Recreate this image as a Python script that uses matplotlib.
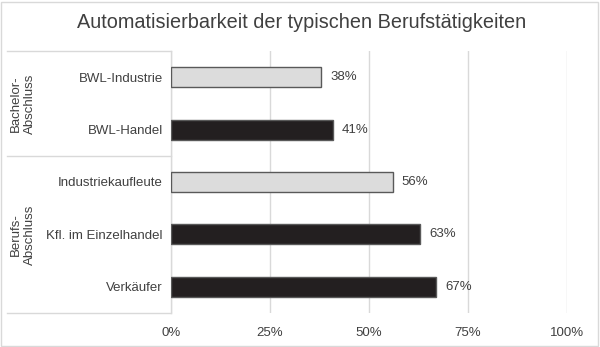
import matplotlib
matplotlib.use("Agg")
import matplotlib.pyplot as plt
from matplotlib.lines import Line2D
from matplotlib.patches import Rectangle

plt.rcParams['font.family'] = ['Liberation Sans', 'DejaVu Sans']

categories = ["BWL-Industrie", "BWL-Handel", "Industriekaufleute",
              "Kfl. im Einzelhandel", "Verkäufer"]
values = [38, 41, 56, 63, 67]
is_industry = [True, False, True, False, False]
groups = ["Bachelor-\nAbschluss", "Berufs-\nAbschluss"]
group_sizes = [2, 3]
xticks = [0, 25, 50, 75, 100]
title = "Automatisierbarkeit der typischen Berufstätigkeiten"

text_col = "#404040"
grid_col = "#d9d9d9"
light_fill = "#dcdcdc"
dark_fill = "#231f20"
edge_col = "#595959"

fig = plt.figure(figsize=(6.0, 3.47), dpi=100)
ax = fig.add_axes([171 / 600, 1 - 313 / 347, 396 / 600, 262 / 347])

ypos = list(range(len(categories)))
colors = [light_fill if ind else dark_fill for ind in is_industry]
ax.barh(ypos, values, height=0.38, color=colors, edgecolor=edge_col,
        linewidth=1.0, zorder=3)

for y, v in zip(ypos, values):
    ax.text(v + 2.2, y, f"{v}%", va="center", ha="left", fontsize=9.5,
            color=text_col)

ax.set_xlim(0, 100)
ax.set_ylim(len(categories) - 0.5, -0.5)
ax.set_xticks(xticks)
ax.set_xticklabels([f"{t}%" for t in xticks], fontsize=9.5, color=text_col)
ax.set_yticks(ypos)
ax.set_yticklabels(categories, fontsize=9.5, color=text_col)
ax.tick_params(axis="both", length=0)
ax.tick_params(axis="y", pad=6)
ax.tick_params(axis="x", pad=10)
ax.grid(axis="x", color=grid_col, linewidth=1.0, zorder=0)
for s in ["top", "right", "bottom"]:
    ax.spines[s].set_visible(False)
ax.spines["left"].set_color(grid_col)
ax.spines["left"].set_linewidth(1.0)

# group brackets on the left side of the category axis
to_fig = ax.transData + fig.transFigure.inverted()
x_left = 7 / 600
start = -0.5
line_ys = [start]
for name, n in zip(groups, group_sizes):
    end = start + n
    mid = (start + end) / 2
    _, ym = to_fig.transform((0, mid))
    fig.text(22.5 / 600, ym, name, rotation=90, ha="center", va="center",
             fontsize=9.5, color=text_col, linespacing=1.25)
    line_ys.append(end)
    start = end
for yl in line_ys:
    x0f, yf = to_fig.transform((0, yl))
    fig.add_artist(Line2D([x_left, x0f], [yf, yf], color=grid_col,
                          linewidth=1.0, transform=fig.transFigure))

fig.text(0.503, 1 - 22 / 347, title, ha="center", va="center",
         fontsize=14.3, color=text_col)

# outer frame
fig.add_artist(Rectangle((1 / 600, 1 / 347), 597 / 600, 344 / 347,
                         transform=fig.transFigure, fill=False,
                         edgecolor=grid_col, linewidth=1.0))

fig.savefig("out.png", dpi=100, facecolor="white")
